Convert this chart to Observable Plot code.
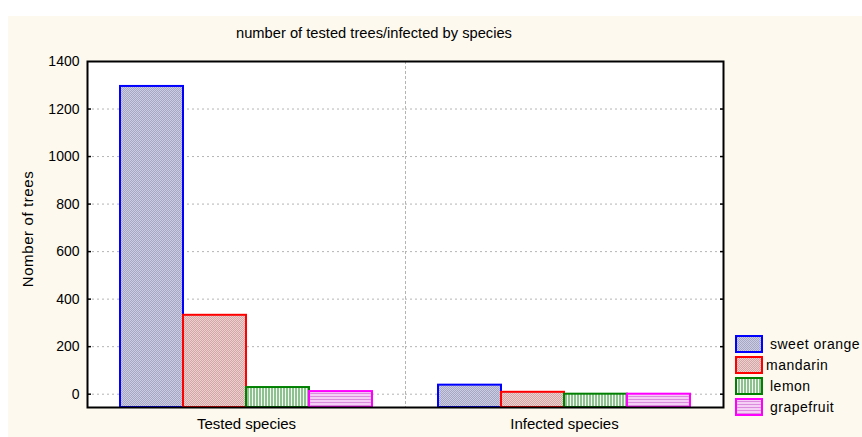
<!DOCTYPE html>
<html><head><meta charset="utf-8">
<script src="https://cdn.jsdelivr.net/npm/d3@7"></script>
<script src="https://cdn.jsdelivr.net/npm/@observablehq/plot@0.6"></script>
<style>
body{margin:0;background:#fff;font-family:"Liberation Sans",Arial,sans-serif;}
#wrap{position:relative;width:862px;height:437px;overflow:hidden;}
#bg{position:absolute;left:8px;top:16px;right:0;bottom:0;background:#fdf9ee;}
#chart{position:absolute;left:0;top:0;}
#title{position:absolute;left:0;width:748px;top:25px;text-align:center;font-size:14.7px;color:#000;white-space:nowrap;}
#ylabel{position:absolute;left:27px;top:229px;transform:translate(-50%,-50%) rotate(-90deg);font-size:15px;letter-spacing:0.6px;color:#000;white-space:nowrap;}
.lg{position:absolute;left:735px;height:18px;display:flex;align-items:center;font-size:14px;letter-spacing:0.5px;color:#000;white-space:nowrap;}
.lg svg{flex:none;}
</style>
</head><body>
<svg width="0" height="0" style="position:absolute">
  <defs>
    <pattern id="pat0" width="2" height="2" patternUnits="userSpaceOnUse">
      <rect width="2" height="2" fill="#cdcde2"/><rect width="1" height="1" fill="#a6a6c6"/><rect x="1" y="1" width="1" height="1" fill="#a6a6c6"/>
    </pattern>
    <pattern id="pat1" width="2" height="2" patternUnits="userSpaceOnUse">
      <rect width="2" height="2" fill="#ecd0d0"/><rect width="1" height="1" fill="#d4a6a6"/><rect x="1" y="1" width="1" height="1" fill="#d4a6a6"/>
    </pattern>
    <pattern id="pat2" width="3" height="3" patternUnits="userSpaceOnUse">
      <rect width="3" height="3" fill="#f4faf4"/><rect width="2" height="3" fill="#8fc08f"/>
    </pattern>
    <pattern id="pat3" width="3" height="3" patternUnits="userSpaceOnUse">
      <rect width="3" height="3" fill="#f6cff6"/><rect width="3" height="1" fill="#dc8cdc"/>
    </pattern>
  </defs>
</svg>
<div id="wrap">
  <div id="bg"></div>
  <div id="chart"></div>
  <div id="title"></div>
  <div id="ylabel"></div>
  <div id="legend"></div>
</div>
<script>
const titleText = "number of tested trees/infected by species";
const yLabel = "Nomber of trees";
const groups = ["Tested species", "Infected species"];
const species = ["sweet orange", "mandarin", "lemon", "grapefruit"];
const testedValues = [1295, 332, 28, 11];
const infectedValues = [38, 8, 0, 0];
const yTicks = [0, 200, 400, 600, 800, 1000, 1200, 1400];
const yMin = -56;
const strokeColors = ["#0000ff", "#ff0000", "#008000", "#ff00ff"];
const patterns = ["url(#pat0)", "url(#pat1)", "url(#pat2)", "url(#pat3)"];

const rows = [];
species.forEach((s, i) => {
  rows.push({group: groups[0], species: s, value: testedValues[i]});
  rows.push({group: groups[1], species: s, value: infectedValues[i]});
});

document.getElementById("title").textContent = titleText;
document.getElementById("ylabel").textContent = yLabel;

const grid = {stroke: "#b4b4b4", strokeOpacity: 1, strokeDasharray: "2,3", strokeWidth: 1};

const chart = Plot.plot({
  width: 862, height: 437,
  marginLeft: 86, marginRight: 139, marginTop: 61, marginBottom: 30,
  style: {background: "transparent", fontFamily: "'Liberation Sans', Arial, sans-serif", fontSize: "14px", color: "#000"},
  fx: {domain: groups, padding: 0, label: null},
  x: {domain: species, paddingInner: 0, paddingOuter: 0.49, axis: null},
  y: {domain: [yMin, 1400]},
  marks: [
    Plot.frame({fill: "white", stroke: "none"}),
    Plot.gridY(yTicks.slice(0, -1), grid),
    Plot.frame({anchor: "right", ...grid}),
    ...species.map((s, i) => Plot.barY(rows.filter(d => d.species === s), {
      fx: "group", x: "species", y1: () => yMin, y2: "value",
      fill: patterns[i], stroke: strokeColors[i], strokeWidth: 2, inset: 0
    })),
    Plot.axisY(yTicks, {anchor: "left", tickSize: 0, tickPadding: 8, fontSize: 14, tickFormat: d => String(d), label: null}),
    Plot.axisY(yTicks.slice(0, -1), {anchor: "left", tickSize: -4, text: null, label: null, stroke: "#000", strokeWidth: 1.5}),
    Plot.axisY(yTicks.slice(0, -1), {anchor: "right", tickSize: -4, text: null, label: null, stroke: "#000", strokeWidth: 1.5}),
    Plot.axisFx({anchor: "bottom", tickSize: 0, tickPadding: 11, fontSize: 15, label: null}),
    Plot.frame({facet: "super", stroke: "#000", strokeWidth: 2})
  ]
});
document.getElementById("chart").appendChild(chart);

const legend = document.getElementById("legend");
const legendTops = [335, 356, 377, 398];
species.forEach((s, i) => {
  const row = document.createElement("div");
  row.className = "lg";
  row.style.top = legendTops[i] + "px";
  row.innerHTML = `<svg width="28" height="18"><rect x="1" y="1" width="26" height="16" fill="${patterns[i]}" stroke="${strokeColors[i]}" stroke-width="2"/></svg><span style="margin-left:${i === 1 ? 3 : 7}px">${s}</span>`;
  legend.appendChild(row);
});
</script>
</body></html>
